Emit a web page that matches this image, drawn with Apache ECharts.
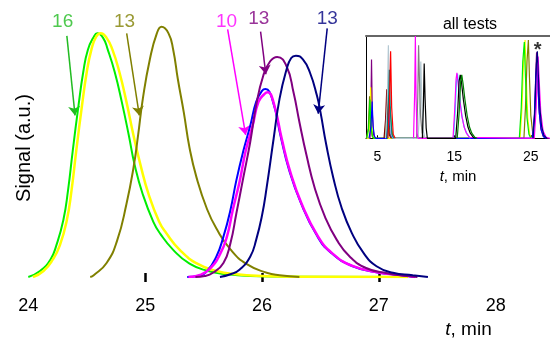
<!DOCTYPE html>
<html>
<head>
<meta charset="utf-8">
<script src="https://cdn.jsdelivr.net/npm/echarts@6/dist/echarts.min.js"></script>
<style>
html, body { margin: 0; padding: 0; background: #fff; }
#main { width: 550px; height: 339px; }
</style>
</head>
<body>
<div id="main"></div>
<script>
// main plot: [t (min), signal]
var green = [[24.00,0],[24.10,2.4],[24.19,7.0],[24.24,12.6],[24.30,22.7],[24.34,34.5],[24.38,50.2],[24.43,68.5],[24.47,81.6],[24.51,90.6],[24.56,95.7],[24.59,97.1],[24.64,95.3],[24.68,90.6],[24.74,81.6],[24.80,69.8],[24.86,56.5],[24.91,44.7],[24.98,32.9],[25.07,22.0],[25.13,17.2],[25.24,10.8],[25.38,5.3],[25.53,2.5],[25.70,1.1],[25.90,0.4],[26.30,0.1],[27.20,0]];
var yellow = [[24.04,0],[24.13,2.4],[24.21,7.0],[24.27,12.6],[24.33,22.7],[24.37,34.5],[24.41,50.2],[24.46,68.5],[24.50,81.6],[24.54,90.6],[24.58,95.7],[24.62,97.1],[24.67,95.3],[24.72,90.6],[24.78,81.6],[24.84,69.8],[24.90,56.5],[24.96,44.7],[25.03,32.9],[25.12,22.0],[25.18,17.5],[25.30,10.6],[25.45,5.2],[25.61,2.4],[25.78,1.1],[26.00,0.4],[26.30,0.1],[27.25,0]];
var olive = [[24.53,0],[24.56,0.7],[24.67,5.6],[24.76,14.5],[24.84,29.1],[24.90,43.5],[24.94,56.6],[24.98,71.0],[25.04,86.7],[25.10,97.1],[25.14,99.7],[25.20,97.1],[25.24,90.6],[25.28,78.8],[25.33,65.8],[25.38,51.4],[25.44,39.6],[25.53,27.0],[25.61,19.3],[25.73,11.0],[25.87,5.1],[26.04,1.7],[26.15,0.7],[26.32,0]];
var blue = [[25.36,0],[25.45,0.4],[25.53,2.4],[25.61,8.2],[25.67,16.1],[25.73,26.7],[25.78,38.4],[25.84,50.2],[25.90,60.4],[25.95,69.8],[26.00,74.2],[26.03,74.9],[26.09,70.5],[26.16,56.0],[26.23,43.0],[26.33,29.8],[26.47,16.5],[26.59,9.7],[26.77,4.4],[27.00,1.7],[27.20,0.7],[27.30,0]];
var magenta = [[25.37,0],[25.47,0.8],[25.55,3.1],[25.64,9.0],[25.70,16.1],[25.75,26.7],[25.81,38.4],[25.86,50.2],[25.92,60.4],[25.97,69.8],[26.02,72.9],[26.05,73.6],[26.10,69.4],[26.17,54.9],[26.24,42.2],[26.34,29.1],[26.48,16.1],[26.60,9.5],[26.78,4.3],[27.01,1.7],[27.21,0.7],[27.31,0]];
var purple = [[25.43,0],[25.51,0.4],[25.58,1.7],[25.67,5.6],[25.73,13.5],[25.78,25.2],[25.84,39.6],[25.90,54.0],[25.95,68.4],[26.01,80.1],[26.07,86.0],[26.13,87.7],[26.21,84.0],[26.27,73.5],[26.32,61.8],[26.38,48.7],[26.45,35.7],[26.54,23.9],[26.64,14.8],[26.75,8.2],[26.89,3.6],[27.07,1.5],[27.24,0.4],[27.33,0]];
var navy = [[25.64,0],[25.73,1.1],[25.81,3.0],[25.90,8.2],[25.95,14.8],[26.00,24.5],[26.04,35.7],[26.10,55.3],[26.15,71.0],[26.21,82.7],[26.25,87.3],[26.29,88.2],[26.35,86.7],[26.41,81.5],[26.47,72.3],[26.50,65.8],[26.55,52.7],[26.61,39.6],[26.68,27.8],[26.77,17.4],[26.87,9.5],[26.98,4.3],[27.12,1.7],[27.29,0.7],[27.42,0]];

var mainTicks = [25, 26, 27];

// arrow labels
var labelTexts = ['16', '13', '10', '13', '13'];
var labelAt = [[24.294,101.7],[24.823,101.7],[25.697,101.7],[25.972,103.0],[26.559,103.0]];
var arrowFrom = [[24.33,96.1],[24.842,97.1],[25.706,98.7],[25.988,97.8],[26.558,99.1]];
var arrowTo = [[24.40,64.4],[24.95,64.4],[25.86,56.6],[26.033,80.8],[26.481,65.1]];

// inset "all tests": [t (min), relative signal]
var tPurple = [[3.5,0],[4.02,0],[4.14,0.3],[4.22,0.77],[4.32,0.25],[4.5,0.03],[4.7,0],[25.25,0],[25.5,0.25],[25.65,0.65],[25.75,0.84],[25.88,0.6],[26.05,0.3],[26.3,0.1],[26.6,0.02],[27.2,0]];
var tYellow = [[3.6,0],[3.9,0],[4.02,0.25],[4.1,0.5],[4.2,0.2],[4.35,0.03],[4.5,0],[23.6,0],[23.85,0.3],[24.05,0.75],[24.25,0.96],[24.4,0.6],[24.6,0.2],[24.85,0.04],[25.1,0]];
var tOlive = [[3.55,0],[3.8,0.1],[3.97,0.41],[4.1,0.15],[4.3,0.02],[4.5,0],[5.95,0],[6.15,0.2],[6.3,0.44],[6.45,0.2],[6.65,0.04],[6.9,0],[24.1,0],[24.3,0.3],[24.5,0.75],[24.68,0.96],[24.82,0.6],[25.0,0.22],[25.25,0.05],[25.5,0]];
var tGreen = [[3.6,0],[3.85,0.1],[4.01,0.38],[4.15,0.12],[4.35,0.02],[4.5,0],[6.3,0],[6.5,0.12],[6.64,0.31],[6.8,0.12],[7.0,0.02],[7.2,0],[23.5,0],[23.75,0.3],[23.95,0.75],[24.15,0.94],[24.3,0.6],[24.5,0.2],[24.75,0.04],[25.0,0]];
var tBlue = [[3.9,0],[4.15,0.12],[4.3,0.36],[4.42,0.12],[4.6,0.02],[4.8,0],[6.2,0],[6.38,0.15],[6.5,0.35],[6.62,0.12],[6.8,0.02],[7.0,0],[25.2,0],[25.45,0.2],[25.65,0.6],[25.78,0.72],[25.92,0.55],[26.1,0.25],[26.35,0.08],[26.7,0.01],[27.0,0]];
var tDarkRed = [[5.85,0],[6.05,0.18],[6.21,0.48],[6.35,0.18],[6.55,0.03],[6.8,0]];
var tRed = [[6.35,0],[6.55,0.3],[6.71,0.85],[6.85,0.3],[7.05,0.04],[7.3,0]];
var tSilver = [[6.05,0],[6.27,0.35],[6.42,0.91],[6.55,0.35],[6.75,0.05],[7.0,0],[10.3,0],[10.5,0.3],[10.65,0.75],[10.78,0.35],[10.95,0.08],[11.2,0]];
var tTeal = [[6.2,0],[6.4,0.25],[6.55,0.67],[6.68,0.25],[6.88,0.04],[7.1,0]];
var tMagenta = [[9.7,0],[9.85,0.45],[9.94,1.0],[10.03,0.4],[10.15,0.05],[10.3,0],[14.85,0],[15.05,0.25],[15.25,0.58],[15.36,0.64],[15.5,0.55],[15.75,0.36],[16.0,0.22],[16.3,0.11],[16.6,0.05],[17.0,0.01],[17.2,0],[25.45,0],[25.7,0.3],[25.85,0.7],[25.95,0.8],[26.1,0.55],[26.3,0.25],[26.6,0.07],[27.0,0.01],[27.5,0]];
var tGrey = [[10.1,0],[10.25,0.4],[10.36,0.91],[10.48,0.55],[10.62,0.22],[10.8,0.06],[11.0,0]];
var tBlack = [[10.85,0],[10.98,0.3],[11.09,0.73],[11.2,0.4],[11.35,0.1],[11.5,0],[15.2,0],[15.45,0.25],[15.65,0.56],[15.79,0.62],[15.95,0.55],[16.2,0.38],[16.5,0.22],[16.8,0.11],[17.1,0.05],[17.5,0.01],[17.8,0]];
var tCyan = [[14.9,0],[15.1,0.22],[15.3,0.55],[15.44,0.63],[15.58,0.52],[15.8,0.35],[16.05,0.2],[16.35,0.1],[16.7,0.04],[17.1,0]];
var tDarkGreen = [[15.4,0],[15.65,0.25],[15.85,0.56],[15.99,0.62],[16.15,0.54],[16.4,0.38],[16.7,0.22],[17.0,0.11],[17.3,0.05],[17.7,0.01],[18.0,0]];
var tNavy = [[25.3,0],[25.55,0.3],[25.72,0.72],[25.85,0.85],[25.98,0.62],[26.15,0.32],[26.4,0.12],[26.7,0.03],[27.1,0]];

var insetTicks = [5, 15, 25];
var starAt = [25.9, 0.86];

var font = 'Liberation Sans, Arial, sans-serif';
var chart = echarts.init(document.getElementById('main'), null, { renderer: 'canvas' });

var mainLine = function (data, color, width) {
    return {
        type: 'line', xAxisIndex: 0, yAxisIndex: 0, data: data,
        showSymbol: false, symbol: 'none', smooth: 0.5, silent: true,
        lineStyle: { color: color, width: width }
    };
}, insetLine = function (data, color) {
    return {
        type: 'line', xAxisIndex: 1, yAxisIndex: 1, data: data,
        showSymbol: false, symbol: 'none', smooth: false, silent: true,
        lineStyle: { color: color, width: 1.2 }
    };
};

var arrowColors = ['#22bb22', '#808000', '#ff00ff', '#800080', '#000080'];

var series = [
    insetLine(tPurple, '#800080'),
    insetLine(tYellow, '#ffff00'),
    insetLine(tOlive, '#808000'),
    insetLine(tGreen, '#00ee00'),
    insetLine(tBlue, '#0000ff'),
    insetLine(tDarkRed, '#800000'),
    insetLine(tSilver, '#b4c8d2'),
    insetLine(tTeal, '#008080'),
    insetLine(tRed, '#ff0000'),
    insetLine(tGrey, '#808080'),
    insetLine(tCyan, '#00ffff'),
    insetLine(tMagenta, '#ff00ff'),
    insetLine(tBlack, '#000000'),
    insetLine(tDarkGreen, '#008000'),
    insetLine(tNavy, '#000080'),
    mainLine(green, '#00ee00', 2),
    mainLine(yellow, '#ffff00', 2.5),
    mainLine(olive, '#808000', 2),
    mainLine(blue, '#0000ff', 2),
    mainLine(magenta, '#ff00ff', 2.5),
    mainLine(purple, '#800080', 2),
    mainLine(navy, '#000080', 2)
];

// arrows
for (var i = 0; i < arrowFrom.length; i++) {
    series.push({
        type: 'lines', coordinateSystem: 'cartesian2d', xAxisIndex: 0, yAxisIndex: 0,
        symbol: ['none', 'arrow'], symbolSize: [5, 9], silent: true,
        lineStyle: { color: arrowColors[i], width: 1.5, opacity: 1 },
        data: [{ coords: [arrowFrom[i], arrowTo[i]] }]
    });
}

// labels
series.push({
    type: 'scatter', xAxisIndex: 0, yAxisIndex: 0, symbolSize: 1, silent: true,
    itemStyle: { color: 'transparent' },
    data: labelAt.map(function (p, i) {
        return { value: p, label: { color: arrowColors[i] } };
    }),
    label: {
        show: true, position: 'inside', fontSize: 19, fontFamily: font,
        formatter: function (p) { return labelTexts[p.dataIndex]; }
    }
});

series.push({
    type: 'scatter', xAxisIndex: 1, yAxisIndex: 1, symbolSize: 1, silent: true,
    itemStyle: { color: 'transparent' },
    data: [starAt],
    label: { show: true, position: 'inside', formatter: '*', fontSize: 20, fontWeight: 'bold', color: '#000', fontFamily: font }
});

var option = {
    animation: false,
    backgroundColor: '#fff',
    textStyle: { fontFamily: font },
    grid: [
        { left: 28.3, right: 54.3, top: 1, bottom: 58 },
        { left: 366, right: -5, top: 36, bottom: 200.7 }
    ],
    xAxis: [{
        type: 'value', gridIndex: 0, min: 24, max: 28, interval: 1, offset: -4,
        axisLine: { show: false },
        axisTick: { show: true, customValues: mainTicks, length: 9, lineStyle: { color: '#000', width: 2.5 } },
        axisLabel: { fontSize: 18, color: '#000', margin: 24, fontFamily: font },
        splitLine: { show: false },
        name: '{it|t}, min', nameLocation: 'end', nameGap: -4,
        nameTextStyle: {
            fontSize: 19, color: '#000', fontFamily: font, align: 'right', verticalAlign: 'top',
            padding: [47, 0, 0, 0],
            rich: { it: { fontStyle: 'italic', fontSize: 19, color: '#000', fontFamily: font } }
        }
    }, {
        type: 'value', gridIndex: 1, min: 3.5, max: 27.5,
        axisLine: { show: true, lineStyle: { color: '#000', width: 1 } },
        axisTick: { show: true, inside: true, customValues: insetTicks, length: 3, lineStyle: { color: '#000' } },
        axisLabel: { customValues: insetTicks, fontSize: 14, color: '#000', margin: 12, fontFamily: font },
        splitLine: { show: false },
        name: '{it|t}, min', nameLocation: 'middle', nameGap: 31,
        nameTextStyle: {
            fontSize: 15, color: '#000', fontFamily: font,
            rich: { it: { fontStyle: 'italic', fontSize: 15, color: '#000', fontFamily: font } }
        }
    }, {
        type: 'value', gridIndex: 1, position: 'top', min: 3.5, max: 27.5,
        axisLine: { show: true, lineStyle: { color: '#666', width: 2 } },
        axisTick: { show: false }, axisLabel: { show: false }, splitLine: { show: false }
    }],
    yAxis: [{
        type: 'value', gridIndex: 0, min: 0, max: 110,
        axisLine: { show: false }, axisTick: { show: false }, axisLabel: { show: false }, splitLine: { show: false },
        name: 'Signal (a.u.)', nameLocation: 'middle', nameGap: -6,
        nameTextStyle: { fontSize: 20, color: '#000', fontFamily: font, padding: [0, 18, 0, 0] }
    }, {
        type: 'value', gridIndex: 1, min: 0, max: 1,
        axisLine: { show: true, lineStyle: { color: '#000', width: 1 } },
        axisTick: { show: false }, axisLabel: { show: false }, splitLine: { show: false }
    }],
    graphic: [{
        type: 'text', x: 470, y: 25, silent: true,
        style: { text: 'all tests', font: '16px ' + font, fill: '#000', align: 'center', verticalAlign: 'middle' }
    }],
    series: series
};

chart.setOption(option);
</script>
</body>
</html>
